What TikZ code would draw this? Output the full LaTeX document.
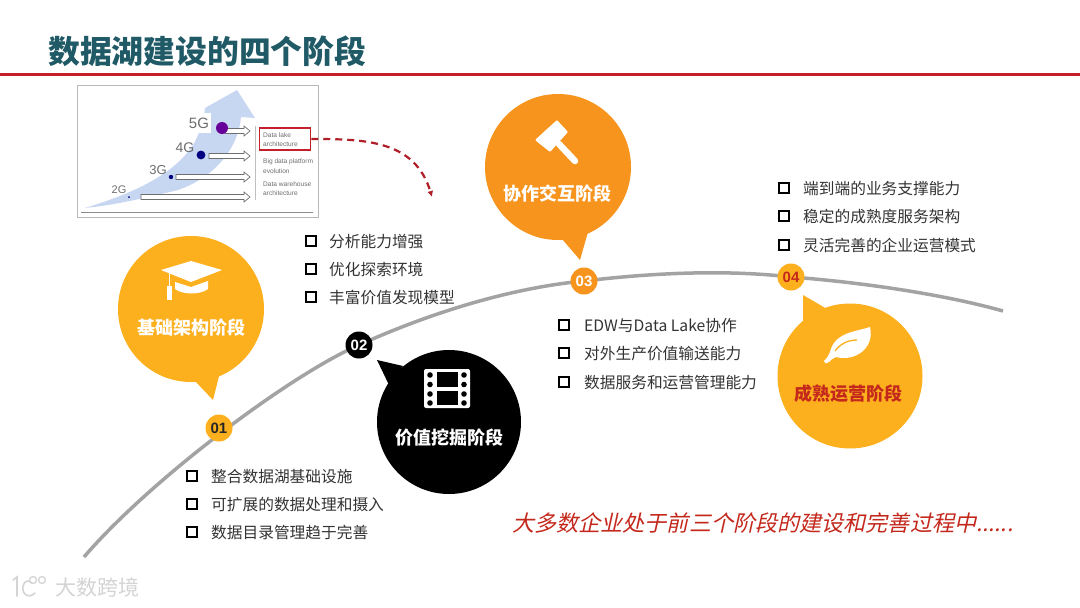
\documentclass[tikz,border=0pt]{standalone}
\usepackage{fontspec}
\setmainfont{Noto Sans CJK SC}
\newfontfamily\latinsans{Liberation Sans}
\newfontfamily\slantfont[FakeSlant=0.22]{Noto Sans CJK SC}
\usetikzlibrary{arrows.meta,calc}
\definecolor{titleteal}{HTML}{1F5A66}
\definecolor{rulered}{HTML}{C3202B}
\definecolor{amber}{HTML}{FDB01E}
\definecolor{tangerine}{HTML}{F7941D}
\definecolor{curvegray}{HTML}{A3A3A3}
\definecolor{bodytext}{HTML}{333333}
\definecolor{brick}{HTML}{C4281C}
\definecolor{dashred}{HTML}{B01E28}
\definecolor{flowblue}{HTML}{C7D7F1}
\definecolor{inkgray}{HTML}{6E6E6E}
\definecolor{markgray}{HTML}{D4D4D4}
\tikzset{
  x=1pt,y=-1pt,
  bubble/.style={circle,inner sep=0pt,minimum size=146pt},
  badge/.style={circle,inner sep=0pt,minimum size=27pt,font=\fontsize{15}{15}\selectfont\latinsans\bfseries},
  stage/.style={font=\fontsize{18}{20}\selectfont\bfseries,inner sep=0pt},
  bulletbox/.style={draw=black,line width=2pt,minimum size=10pt,inner sep=0pt},
  item/.style={anchor=west,inner sep=0pt,text=bodytext,font=\fontsize{15.7}{18}\selectfont},
  tiny/.style={anchor=west,inner sep=0pt,align=left,text=inkgray,font=\fontsize{6.6}{9.5}\selectfont\latinsans},
  glabel/.style={inner sep=0pt,text=inkgray,font=\latinsans},
  hollow/.style={draw=inkgray,fill=white,line width=.7pt},
}
\newcommand{\hollowarrow}[3]{%
  \draw[hollow] (#1,#3-2.5) -- (#2-6,#3-2.5) -- (#2-6,#3-5) -- (#2,#3) -- (#2-6,#3+5) -- (#2-6,#3+2.5) -- (#1,#3+2.5) -- cycle;}
\newcommand{\bulletitem}[4]{%
  \node[bulletbox] (#1b) at (#2,#4) {};
  \node[item] (#1t) at (#3,#4+0.8) {#1};}
\begin{document}
\begin{tikzpicture}
\useasboundingbox (0,0) rectangle (1080,608);
\fill[white] (0,0) rectangle (1080,608);

% title
\node[anchor=west,inner sep=0pt,text=titleteal,font=\fontsize{31.8}{34}\selectfont\bfseries] (title) at (48,51) {数据湖建设的四个阶段};
\fill[rulered] (0,73) rectangle (1080,75.5);

% inset picture
\draw[draw=black!28,line width=.8pt,fill=white] (77,85) rectangle (318,217);
\fill[flowblue] (85,208) .. controls (120,197) and (170,180) .. (193,145)
  .. controls (200,133) and (204,120) .. (205,108) -- (237,90) -- (255,118) -- (241,117)
  .. controls (238,150) and (213,178) .. (178,190) .. controls (145,198) and (115,205) .. (85,208) -- cycle;
\draw[black!45,line width=1pt] (81,212) -- (313,212);
\fill[white] (188,113) rectangle (211,133);
\fill[white] (241,121) rectangle (258,136);
\draw[black!25,line width=.5pt] (255,126) -- (255,200);
\hollowarrow{225}{250}{131}
\hollowarrow{209}{250}{156}
\hollowarrow{176}{250}{177}
\hollowarrow{141}{250}{197}
\fill[violet!80!blue] (222,128) circle (6);
\fill[blue!50!black] (201,155) circle (4.4);
\fill[blue!50!black] (171,177) circle (2.2);
\fill[blue!50!black] (129,197) circle (1);
\node[glabel,font=\fontsize{15}{15}\selectfont\latinsans] (g5) at (199,123) {5G};
\node[glabel,font=\fontsize{14}{14}\selectfont\latinsans] (g4) at (185,148) {4G};
\node[glabel,font=\fontsize{13}{13}\selectfont\latinsans] (g3) at (158,170) {3G};
\node[glabel,font=\fontsize{11}{11}\selectfont\latinsans] (g2) at (119,190) {2G};
\node[draw=rulered,line width=1.5pt,minimum width=51pt,minimum height=22pt,inner sep=0pt] (lakebox) at (285,139) {};
\node[tiny] (lake) at (263,139.5) {Data lake\\architecture};
\node[tiny] (big) at (263,166) {Big data platform\\evolution};
\node[tiny] (dw) at (263,188.5) {Data warehouse\\architecture};

% dashed arrow
\coordinate (dashend) at (432,197);
\draw[dashred,line width=2.2pt,dash pattern=on 7pt off 5pt,-{Latex[length=6pt,width=6pt]}]
  (lakebox.east) .. controls (365,139) and (415,140) .. (dashend);

% curve
\coordinate (curvestart) at (84,557);
\coordinate (curveend) at (1003,311);
\draw[curvegray,line width=3.5pt] (curvestart)
  .. controls (150,480) and (290,375) .. (359,345)
  .. controls (430,313) and (510,288) .. (584,281)
  .. controls (660,272) and (730,270) .. (791,277)
  .. controls (870,283) and (950,296) .. (curveend);

% bubbles
\node[bubble,fill=amber] (b1) at (191,309) {};
\fill[amber] (195,381) -- (213,400) -- (220,372) -- cycle;
\node[bubble,fill=black,minimum size=144pt] (b2) at (449,422) {};
\fill[black] (389,385) -- (377,360) -- (403,366) -- cycle;
\node[bubble,fill=tangerine] (b3) at (558,167) {};
\fill[tangerine] (562,239) -- (580,260) -- (588,232) -- cycle;
\node[bubble,fill=amber,minimum size=145pt] (b4) at (850,376) {};
\fill[amber] (803,325) -- (803,295) -- (827,309) -- cycle;

% badges
\node[badge,fill=amber,text=black!85] (n1) at (219,428) {01};
\node[badge,fill=black,text=white] (n2) at (359,345) {02};
\node[badge,fill=tangerine,text=white] (n3) at (584,281) {03};
\node[badge,fill=amber,text=brick] (n4) at (791,277) {04};

% stage labels
\node[stage,text=white] (s1) at (191,328) {基础架构阶段};
\node[stage,text=white] (s2) at (449,438) {价值挖掘阶段};
\node[stage,text=white] (s3) at (557,194) {协作交互阶段};
\node[stage,text=brick] (s4) at (848,394) {成熟运营阶段};

% mortarboard icon
\fill[white] (161,270) -- (191,261) -- (222,270) -- (191,282) -- cycle;
\fill[white] (175,282) -- (191,287) -- (208,281) -- (208,289) .. controls (200,295) and (183,295) .. (175,289) -- cycle;
\draw[white,line width=1pt] (169,272) -- (169,290);
\fill[white] (167,286) rectangle (172,300);

% gavel icon
\fill[white,rounded corners=1pt] (535,140) -- (557,120) -- (568,132) -- (550,152) -- cycle;
\draw[white,line width=6.5pt,line cap=round] (559,144) -- (575,161);

% film icon
\fill[white,rounded corners=2pt] (424,369) rectangle (470,408);
\fill[black] (437,372) rectangle (458,387);
\fill[black] (437,391) rectangle (458,405);
\foreach \yy in {375,384.5,394,403}{
  \fill[black] (430,\yy) circle (2.8);
  \fill[black] (464,\yy) circle (2.8);
}

% leaf icon
\fill[white] (870,327) .. controls (855,332) and (835,332) .. (830,352)
  .. controls (829,355) and (827,358) .. (824,361) .. controls (825,364) and (827,364) .. (829,362)
  .. controls (831,360) and (833,358) .. (836,357) .. controls (855,362) and (875,348) .. (870,327) -- cycle;
\draw[amber,line width=1.3pt] (835,351) .. controls (840,344) and (848,340) .. (857,340);

% bullet lists
\bulletitem{整合数据湖基础设施}{192}{211}{476}
\bulletitem{可扩展的数据处理和摄入}{192}{211}{504}
\bulletitem{数据目录管理趋于完善}{192}{211}{532}
\bulletitem{分析能力增强}{311}{329}{241}
\bulletitem{优化探索环境}{311}{329}{269}
\bulletitem{丰富价值发现模型}{311}{329}{297}
\bulletitem{EDW与Data Lake协作}{564}{584}{325}
\bulletitem{对外生产价值输送能力}{564}{584}{353}
\bulletitem{数据服务和运营管理能力}{564}{584}{382}
\bulletitem{端到端的业务支撑能力}{784}{803}{188}
\bulletitem{稳定的成熟度服务架构}{784}{803}{216}
\bulletitem{灵活完善的企业运营模式}{784}{803}{245}

% closing remark
\node[anchor=west,inner sep=0pt,text=brick,font=\fontsize{22.1}{24}\slantfont] (remark) at (512,523) {大多数企业处于前三个阶段的建设和完善过程中......};

% watermark
\draw[markgray,line width=1.6pt,line cap=round] (13,580) -- (17,577) -- (17,596);
\draw[markgray,line width=1.6pt,line cap=round] (32,583) .. controls (24,576) and (20,590) .. (25,594) .. controls (28,597) and (32,596) .. (35,593);
\draw[markgray,line width=1.3pt] (33,580) circle (3.5);
\draw[markgray,line width=1.3pt] (42,580) circle (3.5);
\node[anchor=west,inner sep=0pt,text=markgray,font=\fontsize{21}{24}\selectfont] (mark) at (55,587) {大数跨境};
\end{tikzpicture}
\end{document}
